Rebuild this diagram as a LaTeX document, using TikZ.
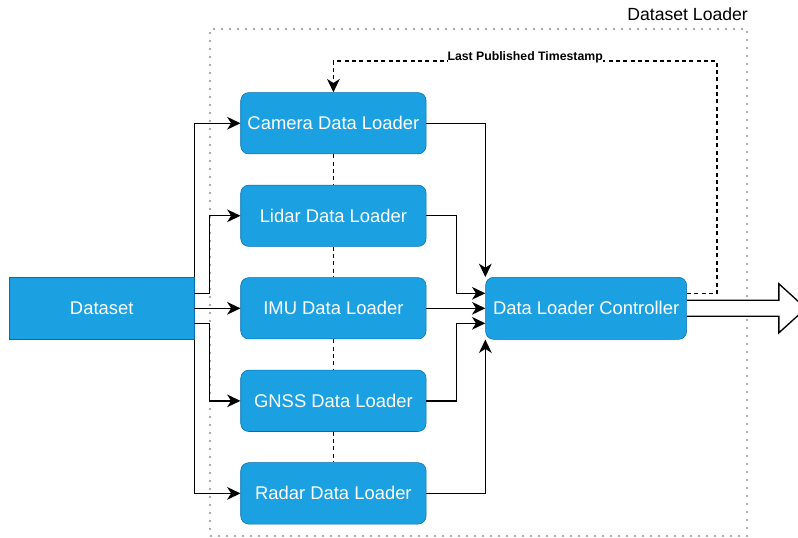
\documentclass[tikz,border=0pt]{standalone}
\usepackage{fontspec}
\setmainfont{Liberation Sans}
\usetikzlibrary{arrows.meta, positioning}
\definecolor{boxBlue}{HTML}{1BA1E2}
\definecolor{boxEdge}{HTML}{006EAF}
\definecolor{groupGrey}{HTML}{ABABAB}

\begin{document}
\begin{tikzpicture}[
        x=0.75pt, y=-0.75pt,
        node distance=23pt and 44.25pt,
        loader/.style={draw=boxEdge, fill=boxBlue, text=white, rounded corners=6pt, inner sep=0pt,
            minimum width=139pt, minimum height=46pt, font=\fontsize{13.8}{16}\selectfont},
        srcbox/.style={loader, rounded corners=0pt, minimum width=138.75pt, minimum height=46.5pt},
        ctrlbox/.style={loader, minimum width=150.75pt, minimum height=46.5pt},
        group/.style={draw=groupGrey, line width=1.6pt, dash pattern=on 1.6pt off 4.4pt,
            minimum width=402.75pt, minimum height=380.25pt},
        link/.style={-{Stealth[length=10pt, width=9.5pt, inset=3pt]}, line width=1pt},
        sync/.style={dash pattern=on 3pt off 2.5pt, line width=1pt},
        fb/.style={sync, -{Stealth[length=10pt, width=9.5pt, inset=3pt]}},
        lbl/.style={fill=white, inner xsep=0pt, inner ysep=2pt, yshift=3pt,
            font=\bfseries\fontsize{9.2}{11}\selectfont},
        bigarrow/.style={draw=black, fill=white, line width=1pt}
    ]
        \useasboundingbox (0,0) rectangle (798,537);

        \node[group] (grp) at (478.5,282.5) {};
        \node[anchor=base east, inner sep=0pt, font=\fontsize{13.2}{15}\selectfont] (grpname)
            at ([yshift=5.25pt]grp.north east) {Dataset Loader};

        \node[loader] (imu) at (333.4,308.3) {IMU Data Loader};
        \node[loader, above=of imu] (lidar) {Lidar Data Loader};
        \node[loader, above=of lidar] (camera) {Camera Data Loader};
        \node[loader, below=of imu] (gnss) {GNSS Data Loader};
        \node[loader, below=of gnss] (radar) {Radar Data Loader};
        \node[srcbox, left=34.5pt of imu] (dataset) {Dataset};
        \node[ctrlbox, right=of imu] (controller) {Data Loader Controller};

        \foreach \a/\b in {camera/lidar, lidar/imu, imu/gnss, gnss/radar}
            \draw[sync] (\a) -- (\b);

        \draw[link] (dataset.north east) |- (camera.west);
        \draw[link] ([yshift=11.25pt]dataset.east) -- ++(11.25pt,0) |- (lidar.west);
        \draw[link] (dataset) -- (imu);
        \draw[link] ([yshift=-11.25pt]dataset.east) -- ++(11.25pt,0) |- (gnss.west);
        \draw[link] (dataset.south east) |- (radar.west);

        \draw[link] (camera.east) -| (controller.north west);
        \draw[link] (lidar.east) -- ++(22.5pt,0) |- ([yshift=11.25pt]controller.west);
        \draw[link] (imu) -- (controller);
        \draw[link] (gnss.east) -- ++(22.5pt,0) |- ([yshift=-11.25pt]controller.west);
        \draw[link] (radar.east) -| (controller.south west);

        \coordinate[above=23.5pt of camera.north] (fbL);
        \coordinate (fbR) at ([xshift=22.5pt]controller.east |- fbL);
        \draw[fb] ([yshift=11.25pt]controller.east) -| (fbR)
            -- node[lbl]{Last Published Timestamp} (fbL) -- (camera.north);

        \coordinate (out) at ([xshift=89.25pt]controller.east);
        \draw[bigarrow] ([yshift=6pt]controller.east) -- ++(69pt,0) -- ++(0,12.4pt) -- (out)
            -- ++(-20.25pt,-18.4pt) -- ++(0,12.4pt) -- ([yshift=-6pt]controller.east);
    \end{tikzpicture}
\end{document}
